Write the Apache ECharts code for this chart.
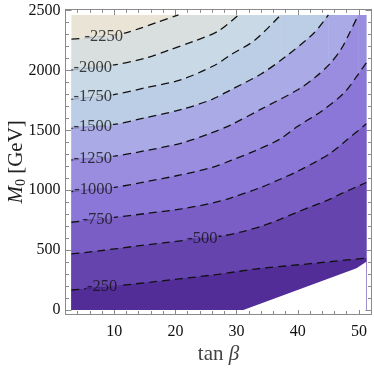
<!DOCTYPE html>
<html><head><meta charset="utf-8">
<script src="https://cdn.jsdelivr.net/npm/echarts@6/dist/echarts.min.js"></script>
<style>html,body{margin:0;padding:0;background:#fff}#c{width:374px;height:368px}</style>
</head><body><div id="c"></div>
<script>
// ---- axis ticks ----
const tanBetaTicks = [10, 20, 30, 40, 50];
const tanBetaMinor = [4, 6, 8, 12, 14, 16, 18, 22, 24, 26, 28, 32, 34, 36, 38, 42, 44, 46, 48, 52];
const m0Ticks = [0, 500, 1000, 1500, 2000, 2500];
const m0Minor = [100, 200, 300, 400, 600, 700, 800, 900, 1100, 1200, 1300, 1400, 1600, 1700, 1800, 1900, 2100, 2200, 2300, 2400];

// ---- data region ----
const X_MIN = 3, X_MAX = 51.2, M0_TOP = 2465;

// ---- contour lines [tanBeta, M0] ----
const c250  = [[3,167],[10,200],[16,233],[21,262],[27,298],[33,342],[39,372],[45,402],[51.2,434]];
const c500  = [[3,468],[8,497],[13,530],[18,560],[23,590],[28,622],[31,655],[34.4,705],[37,755],[39.8,815],[42.5,870],[45,920],[47,970],[49,1015],[51.2,1065]];
const c750  = [[3,733],[10,774],[15,805],[21,845],[26,893],[29,935],[34,1025],[37,1090],[40,1160],[43,1240],[45.3,1309],[48,1420],[51.2,1555]];
const c1000 = [[3,990],[10,1025],[15,1070],[21,1130],[26,1192],[29,1247],[33,1330],[37,1425],[40,1535],[44,1665],[47.5,1810],[49.6,1949],[51.2,2065]];
const c1250 = [[3,1253],[10,1285],[15,1330],[21,1395],[25.7,1476],[29,1545],[34,1678],[40,1840],[43,1950],[45.3,2060],[47,2172],[48.3,2297],[49.9,2465]];
const c1500 = [[3,1518],[10,1550],[15,1605],[21,1675],[26,1760],[29,1838],[34,1972],[38,2116],[42.6,2312],[45,2465]];
const c1750 = [[3,1760],[10,1800],[15,1855],[21,1925],[26.5,2047],[29,2131],[33,2255],[37.2,2465]];
const c2000 = [[3,2005],[10,2047],[15,2103],[19,2172],[23,2245],[27,2330],[30.3,2465]];
const c2250 = [[3,2262],[8,2285],[11.5,2311],[14.2,2353],[17,2403],[20.5,2465]];

// ---- contour labels ----
const labelText = ['-250', '-500', '-750', '-1000', '-1250', '-1500', '-1750', '-2000', '-2250'];
const labelTanB = [8.0, 24.4, 7.3, 6.6, 6.5, 6.5, 6.5, 6.5, 8.3];
const labelM0   = [191, 598, 758, 1008, 1268, 1534, 1780, 2026, 2287];

// ---- excluded (white) region boundary ----
const exclusion = [[31.1,0],[49.6,348],[51.2,404]];

const contours = [c250, c500, c750, c1000, c1250, c1500, c1750, c2000, c2250];
const bandColors = ['#522d98', '#6644ae', '#7a5dc5', '#8b77d8', '#9a8de0', '#aaaae6', '#bccde6', '#c9d9e6', '#d9dedf', '#e9e4d6'];

const FONT = '"Liberation Serif", "Times New Roman", serif';
const AX = '#8a8a8a';
const series = [];

series.push({type:'line', data:[[X_MIN,M0_TOP],[X_MAX,M0_TOP]], symbol:'none', silent:true, z:1,
  lineStyle:{width:0}, areaStyle:{color:bandColors[9], opacity:1, origin:'auto'}});
for (let k = contours.length - 1; k >= 0; k--) {
  const pts = contours[k];
  series.push({type:'line', data:pts, smooth:0.3, symbol:'none', silent:true, z:2,
    lineStyle:{width:0}, areaStyle:{color:bandColors[k], opacity:1, origin:'auto'}});
  const last = pts[pts.length - 1];
  if (last[1] >= M0_TOP) {
    series.push({type:'line', data:[[last[0],M0_TOP],[X_MAX,M0_TOP]], symbol:'none', silent:true, z:2,
      lineStyle:{width:0}, areaStyle:{color:bandColors[k], opacity:1, origin:'auto'}});
  }
}
series.push({type:'line', data:exclusion, symbol:'none', silent:true, z:3,
  lineStyle:{width:0}, areaStyle:{color:'#ffffff', opacity:1, origin:'auto'}});
contours.forEach(function (pts) {
  series.push({type:'line', data:pts, smooth:0.3, symbol:'none', silent:true, z:4,
    lineStyle:{color:'#111', width:1.3, type:[8,5]}});
});
series.push({type:'scatter', silent:true, z:5, symbolSize:1, itemStyle:{color:'rgba(0,0,0,0)'},
  data: labelText.map(function (t, i) {
    const up = bandColors[i + 1], lo = bandColors[i];
    return {value:[labelTanB[i], labelM0[i]], name:t,
      label:{show:true, position:'inside', formatter:t, color:'#111', fontFamily:FONT, fontSize:16.5,
        padding:[0,1,0,1], lineHeight:15,
        backgroundColor:new echarts.graphic.LinearGradient(0,0,0,1,[
          {offset:0,color:up},{offset:0.5,color:up},{offset:0.5,color:lo},{offset:1,color:lo}])}};
  })});

function fmt(v) { return String(v); }
function xAx(pos, values, len, showLine, labels, gridIndex, name) {
  return {type:'value', gridIndex:gridIndex, position:pos, min:2.03, max:52.05,
    axisLine:{show:showLine, onZero:false, lineStyle:{color:AX, width:1}},
    axisTick:{show:true, inside:true, length:len, customValues:values, lineStyle:{color:AX}},
    axisLabel:{show:labels, customValues:values, formatter:fmt, color:'#111', fontFamily:FONT, fontSize:16, margin:9},
    splitLine:{show:false},
    name:name || '', nameLocation:'middle', nameGap:29, nameMoveOverlap:false,
    nameTextStyle:{fontFamily:FONT, fontSize:21, color:'#444', rich:{n:{fontFamily:FONT, fontSize:21, color:'#444'}, i:{fontFamily:FONT, fontSize:21, fontStyle:'italic', color:'#444'}}}};
}
function yAx(pos, values, len, showLine, labels, gridIndex, name) {
  return {type:'value', gridIndex:gridIndex, position:pos, min:-37.6, max:2512,
    axisLine:{show:showLine, onZero:false, lineStyle:{color:AX, width:1}},
    axisTick:{show:true, inside:true, length:len, customValues:values, lineStyle:{color:AX}},
    axisLabel:{show:labels, customValues:values, formatter:fmt, color:'#111', fontFamily:FONT, fontSize:16, margin:5},
    splitLine:{show:false},
    name:name || '', nameLocation:'middle', nameGap:37, nameRotate:90, nameMoveOverlap:false,
    nameTextStyle:{fontFamily:FONT, fontSize:21, color:'#222',
      rich:{i:{fontFamily:FONT, fontSize:21, fontStyle:'italic', color:'#222'},
            s:{fontFamily:FONT, fontSize:14, color:'#222', padding:[10,0,0,0]},
            n:{fontFamily:FONT, fontSize:21, color:'#222'}}}};
}

const gridRect = {left:65.5, right:2.5, top:9.3, bottom:53.5, containLabel:false, outerBoundsMode:'none'};
const option = {
  animation:false,
  backgroundColor:'#ffffff',
  grid:[Object.assign({}, gridRect), Object.assign({}, gridRect)],
  xAxis:[
    xAx('bottom', tanBetaTicks, 6, true, true, 0, '{n|tan }{i|β}'),
    xAx('top', tanBetaTicks, 6, true, false, 0),
    xAx('bottom', tanBetaMinor, 3.5, false, false, 1),
    xAx('top', tanBetaMinor, 3.5, false, false, 1)
  ],
  yAxis:[
    yAx('left', m0Ticks, 6, true, true, 0, '{i|M}{s|0}{n| [GeV]}'),
    yAx('right', m0Ticks, 6, true, false, 0),
    yAx('left', m0Minor, 3.5, false, false, 1),
    yAx('right', m0Minor, 3.5, false, false, 1)
  ],
  series:series.map(function (s) { return Object.assign({xAxisIndex:0, yAxisIndex:0}, s); })
};
const chart = echarts.init(document.getElementById('c'), null, {renderer:'canvas'});
chart.setOption(option);
</script></body></html>
